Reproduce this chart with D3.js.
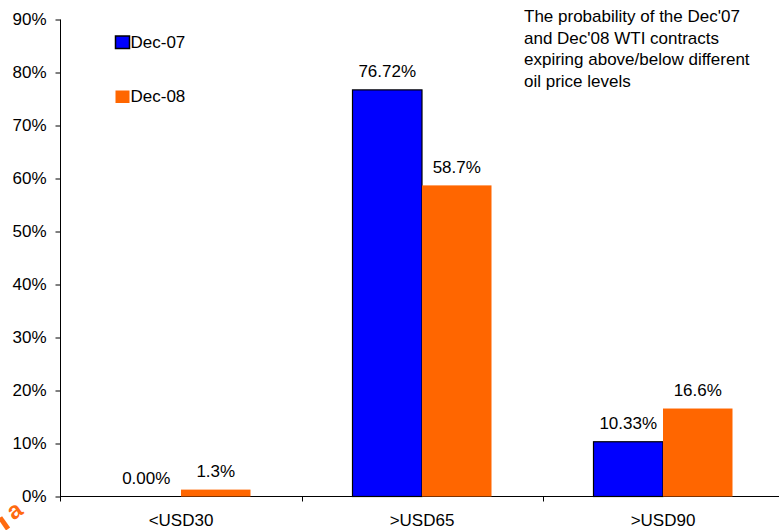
<!DOCTYPE html>
<html>
<head>
<meta charset="utf-8">
<script src="https://cdn.jsdelivr.net/npm/d3@7"></script>
<style>
  html, body { margin: 0; padding: 0; background: #fff; }
  svg { display: block; }
  text { font-family: "Liberation Sans", Arial, Helvetica, sans-serif; fill: #000; }
</style>
</head>
<body>
<script>
// Probability of WTI contracts expiring above/below price levels
const categories = ["<USD30", ">USD65", ">USD90"];
const seriesNames = ["Dec-07", "Dec-08"];
const dec07 = [0.00, 76.72, 10.33];
const dec08 = [1.3, 58.7, 16.6];
const labelDecimals = [2, 1];
const seriesColors = ["#0000FF", "#FF6600"];
const seriesStroke = ["#000", "none"];
const yTicks = [0, 10, 20, 30, 40, 50, 60, 70, 80, 90];
const noteLines = [
  "The probability of the Dec'07",
  "and Dec'08 WTI contracts",
  "expiring above/below different",
  "oil price levels"
];

const W = 779, H = 530;
const FS = "17px";
const svg = d3.select("body").append("svg").attr("width", W).attr("height", H);

const y = d3.scaleLinear().domain([0, 90]).range([496.5, 19.5]);
const x = d3.scaleBand().domain(categories).range([60.5, 783.5]).padding(0);
const barW = 69.5;
const sub = d3.scaleBand().domain(seriesNames).range([-barW, barW]).padding(0);

// Y axis
const yAxis = d3.axisLeft(y).tickValues(yTicks).tickSize(5).tickPadding(9)
  .tickFormat(d => d + "%");
const gy = svg.append("g").attr("transform", "translate(60.5,0)").call(yAxis);
gy.select(".domain").attr("d", `M0,${y(90)}V${y(0) + 5}`).attr("stroke", "#000");
gy.selectAll(".tick line").attr("stroke", "#000");
gy.selectAll(".tick text").style("font-size", FS)
  .style("font-family", "'Liberation Sans', Arial, sans-serif").attr("fill", "#000");

// X axis: ticks at category boundaries
const gx = svg.append("g").attr("transform", `translate(0,${y(0)})`);
gx.append("line").attr("x1", 60.5).attr("x2", W).attr("y1", 0).attr("y2", 0).attr("stroke", "#000");
const bounds = categories.map(c => x(c)).concat([x(categories[2]) + x.bandwidth()]);
gx.selectAll("line.bt").data(bounds.slice(1)).join("line").attr("class", "bt")
  .attr("x1", d => Math.round(d) + 0.5).attr("x2", d => Math.round(d) + 0.5)
  .attr("y1", 0).attr("y2", 5).attr("stroke", "#000");
gx.selectAll("text.cat").data(categories).join("text").attr("class", "cat")
  .attr("x", d => x(d) + x.bandwidth() / 2).attr("y", 29)
  .attr("text-anchor", "middle").style("font-size", FS).text(d => d);

// Bars
const series = [dec07, dec08];
series.forEach((vals, si) => {
  const g = svg.append("g");
  const fmt = d3.format("." + labelDecimals[si] + "f");
  const cx = (i) => x(categories[i]) + x.bandwidth() / 2 + sub(seriesNames[si]);
  g.selectAll("rect").data(vals).join("rect")
    .attr("x", (d, i) => cx(i))
    .attr("y", d => y(d))
    .attr("width", sub.bandwidth())
    .attr("height", d => y(0) - y(d))
    .attr("fill", seriesColors[si])
    .attr("stroke", seriesStroke[si])
    .attr("stroke-width", 1.2);
  g.selectAll("text").data(vals).join("text")
    .attr("x", (d, i) => cx(i) + sub.bandwidth() / 2)
    .attr("y", d => y(d) - 12.5)
    .attr("text-anchor", "middle").style("font-size", FS)
    .text(d => fmt(d) + "%");
});

// Legend
const legend = svg.append("g");
const legY = [36, 90.5];
seriesNames.forEach((n, i) => {
  legend.append("rect").attr("x", 115.5).attr("y", legY[i])
    .attr("width", 14).attr("height", 12.5)
    .attr("fill", seriesColors[i]).attr("stroke", seriesStroke[i]).attr("stroke-width", 1.5);
  legend.append("text").attr("x", 130.5).attr("y", legY[i] + 11.5)
    .style("font-size", FS).text(n);
});

// Note
svg.append("g").selectAll("text").data(noteLines).join("text")
  .attr("x", 524).attr("y", (d, i) => 22 + i * 21.5)
  .style("font-size", FS).text(d => d);

// Corner mark
svg.append("text").attr("transform", "translate(19,517) rotate(-35)")
  .attr("text-anchor", "middle").style("font-size", "24px").style("font-weight", "bold")
  .style("fill", "#FF6A10").text("a");
svg.append("rect").attr("transform", "translate(-2,519) rotate(-35)")
  .attr("x", 0).attr("y", 0).attr("width", 5).attr("height", 14)
  .attr("fill", "#FF6A10");
</script>
</body>
</html>
